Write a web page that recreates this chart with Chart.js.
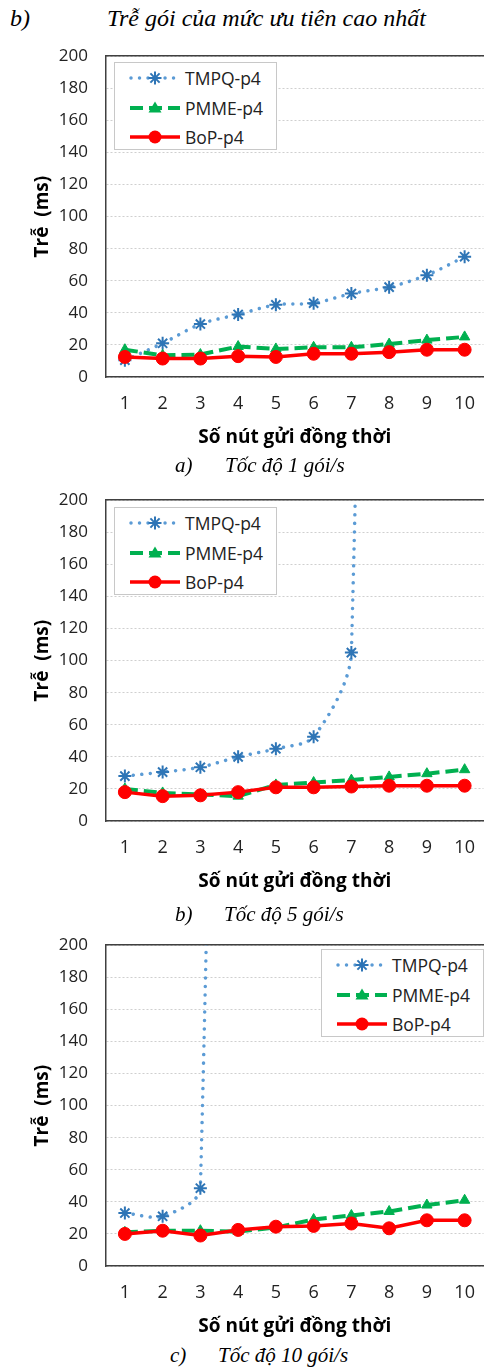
<!DOCTYPE html>
<html>
<head>
<meta charset="utf-8">
<script src="https://cdn.jsdelivr.net/npm/chart.js@4.4.1/dist/chart.umd.min.js"></script>
<style>
  html, body { margin: 0; padding: 0; background: #fff; }
  body { width: 489px; height: 1368px; overflow: hidden; position: relative; }
  .cv { position: absolute; left: 0; }
  .cap { position: absolute; font-family: 'Liberation Serif', 'Times New Roman', serif; font-style: italic; color: #000; white-space: nowrap; }
  .legend { position: absolute; width: 163px; height: 88px; border: 1px solid #c8c8c8; background: #fff; box-sizing: border-box; }
  .legend .row { position: absolute; left: 0; width: 100%; height: 24px; }
  .legend svg { position: absolute; left: 14px; top: 2px; }
  .legend span { position: absolute; left: 70px; top: 0; line-height: 24px; font-family: 'Open Sans', sans-serif; font-size: 17.5px; color: #222; }
</style>
</head>
<body>

<div class="cap" style="left:10px;top:4px;font-size:24px;line-height:28px;">b)</div>
<div class="cap" style="left:107px;top:4px;font-size:24px;line-height:28px;">Trễ gói của mức ưu tiên cao nhất</div>

<canvas id="c1" class="cv" width="492" height="421" style="top:28px;width:492px;height:421px;"></canvas>
<canvas id="c2" class="cv" width="492" height="421" style="top:472px;width:492px;height:421px;"></canvas>
<canvas id="c3" class="cv" width="492" height="421" style="top:917px;width:492px;height:421px;"></canvas>

<div class="cap" style="left:175px;top:453px;font-size:21px;line-height:24px;">a)</div>
<div class="cap" style="left:225px;top:453px;font-size:21px;line-height:24px;">Tốc độ 1 gói/s</div>
<div class="cap" style="left:175px;top:902px;font-size:21px;line-height:24px;">b)</div>
<div class="cap" style="left:224px;top:902px;font-size:21px;line-height:24px;">Tốc độ 5 gói/s</div>
<div class="cap" style="left:170px;top:1343px;font-size:21px;line-height:24px;">c)</div>
<div class="cap" style="left:218px;top:1343px;font-size:21px;line-height:24px;">Tốc độ 10 gói/s</div>

<script>
// x axis: number of nodes sending at the same time
const categories = ['1', '2', '3', '4', '5', '6', '7', '8', '9', '10'];
const seriesNames = ['TMPQ-p4', 'PMME-p4', 'BoP-p4'];

// a) 1 packet/s
const tmpq1 = [10.5, 21, 33, 39, 45, 46, 52, 56, 63.5, 75];
const pmme1 = [17, 13.5, 14, 19, 17.5, 18.5, 18.5, 20.5, 23, 25];
const bop1  = [12.5, 11.5, 11.5, 13, 12.5, 14.5, 14.5, 15.5, 17, 17];

// b) 5 packets/s (TMPQ goes off the scale after 7 nodes)
const tmpq5 = [28, 30.5, 33.5, 40, 45, 52.5, 105, 1800, null, null];
const pmme5 = [20, 17.5, 16.5, 15.5, 22.5, 24, 25.5, 27.5, 29.5, 32];
const bop5  = [18, 15.5, 16, 18, 21, 21, 21.5, 22, 22, 22];

// c) 10 packets/s (TMPQ goes off the scale after 3 nodes)
const tmpq10 = [33, 31, 48.5, 1800, null, null, null, null, null, null];
const pmme10 = [21, 22, 22, 21.5, 24, 29, 31.5, 34, 38, 41];
const bop10  = [20, 22, 19, 22.5, 24.5, 25, 26.5, 23.5, 28.5, 28.5];

const yMax = 200;
const yStep = 20;

const FONT = "'Open Sans', sans-serif";
const BLUE_LINE = '#5B9BD5';
const BLUE_MARK = '#2E75B6';
const GREEN = '#00B050';
const RED = '#FF0000';
const AXIS = '#404040';

function buildChart(id, tmpq, pmme, bop) {
  const ctx = document.getElementById(id).getContext('2d');
  return new Chart(ctx, {
    type: 'line',
    data: {
      labels: categories,
      datasets: [
        {
          label: seriesNames[0],
          data: tmpq,
          order: 2,
          borderColor: BLUE_LINE,
          borderWidth: 3.5,
          borderDash: [0.01, 8.5],
          borderCapStyle: 'round',
          tension: 0.3,
          pointStyle: 'star',
          pointRadius: 6.5,
          pointBorderWidth: 2,
          pointBorderColor: BLUE_MARK,
          pointBackgroundColor: BLUE_MARK,
        },
        {
          label: seriesNames[1],
          data: pmme,
          order: 1,
          borderColor: GREEN,
          borderWidth: 4,
          borderDash: [13, 6],
          tension: 0,
          pointStyle: 'triangle',
          pointRadius: 6,
          pointBorderWidth: 1,
          pointBorderColor: GREEN,
          pointBackgroundColor: GREEN,
        },
        {
          label: seriesNames[2],
          data: bop,
          order: 0,
          borderColor: RED,
          borderWidth: 3.5,
          tension: 0,
          pointStyle: 'circle',
          pointRadius: 6.5,
          pointBorderWidth: 1,
          pointBorderColor: RED,
          pointBackgroundColor: RED,
        },
      ],
    },
    options: {
      responsive: false,
      animation: false,
      spanGaps: false,
      layout: { padding: { top: 4, left: 31, right: 0, bottom: 0 } },
      plugins: {
        legend: { display: false },
        tooltip: { enabled: false },
      },
      scales: {
        x: {
          type: 'category',
          offset: true,
          grid: { display: false, drawTicks: false },
          border: { color: AXIS, width: 1.5 },
          ticks: {
            padding: 16,
            maxRotation: 0,
            autoSkip: false,
            color: '#222',
            font: { family: FONT, size: 18 },
          },
          title: {
            display: true,
            text: 'Số nút gửi đồng thời',
            color: '#000',
            padding: 0,
            font: { family: FONT, size: 19, weight: 'bold' },
          },
          afterFit(scale) { scale.height = 72; },
        },
        xTop: {
          type: 'category',
          labels: categories,
          position: 'top',
          offset: true,
          grid: { display: false, drawTicks: false },
          ticks: { display: false },
          border: { color: AXIS, width: 1.5 },
          afterFit(scale) { scale.height = 0; },
        },
        y: {
          min: 0,
          max: yMax,
          grid: { color: '#cfcfcf', lineWidth: 1, drawTicks: false },
          border: { color: AXIS, width: 1.5, dash: [2, 2] },
          ticks: {
            stepSize: yStep,
            padding: 18,
            color: '#222',
            font: { family: FONT, size: 17 },
          },
          title: {
            display: true,
            text: 'Trễ  (ms)',
            color: '#000',
            padding: 0,
            font: { family: FONT, size: 19, weight: 'bold' },
          },
          afterFit(scale) { scale.width = 75; },
        },
      },
    },
  });
}

buildChart('c1', tmpq1, pmme1, bop1);
buildChart('c2', tmpq5, pmme5, bop5);
buildChart('c3', tmpq10, pmme10, bop10);

// legend boxes (Excel style: line sample with marker in the middle)
const legendSamples = [
  '<line x1="2" y1="10" x2="50" y2="10" stroke="' + BLUE_LINE + '" stroke-width="3.5" stroke-dasharray="0.01 8.5" stroke-linecap="round"/>' +
  '<g stroke="' + BLUE_MARK + '" stroke-width="2"><line x1="26" y1="3.5" x2="26" y2="16.5"/><line x1="19.5" y1="10" x2="32.5" y2="10"/>' +
  '<line x1="21.4" y1="5.4" x2="30.6" y2="14.6"/><line x1="30.6" y1="5.4" x2="21.4" y2="14.6"/></g>',
  '<line x1="1" y1="10" x2="51" y2="10" stroke="' + GREEN + '" stroke-width="4" stroke-dasharray="13 6"/>' +
  '<polygon points="26,3.5 32.5,14.5 19.5,14.5" fill="' + GREEN + '"/>',
  '<line x1="1" y1="10" x2="51" y2="10" stroke="' + RED + '" stroke-width="3.5"/>' +
  '<circle cx="26" cy="10" r="6.5" fill="' + RED + '"/>',
];

function addLegend(left, top) {
  const box = document.createElement('div');
  box.className = 'legend';
  box.style.left = left + 'px';
  box.style.top = top + 'px';
  seriesNames.forEach((name, i) => {
    const row = document.createElement('div');
    row.className = 'row';
    row.style.top = (3 + i * 29.5) + 'px';
    row.innerHTML = '<svg width="54" height="20" viewBox="0 0 54 20">' + legendSamples[i] + '</svg><span>' + name + '</span>';
    box.appendChild(row);
  });
  document.body.appendChild(box);
}

addLegend(114, 62);
addLegend(114, 507);
addLegend(321, 949);
</script>
</body>
</html>
